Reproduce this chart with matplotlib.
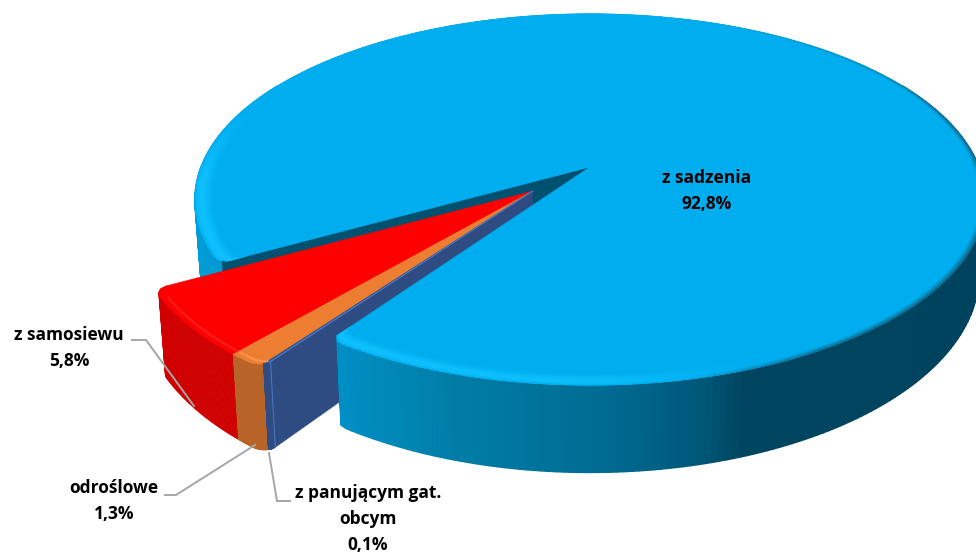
"""3D exploded pie chart, drawn with polygons through a small projection."""

import matplotlib

matplotlib.use("Agg")
import matplotlib.pyplot as plt
import numpy as np
from matplotlib.collections import PolyCollection
from matplotlib.colors import to_rgb
from matplotlib.patches import Polygon

labels = ["z sadzenia", "z panującym gat.\nobcym", "odroślowe", "z samosiewu"]
shares = [92.8, 0.1, 1.3, 5.8]

top_colors = ["#00AEEF", "#2F4D85", "#ED7D31", "#FF0000"]
wall_colors = ["#0090C4", "#2E4C82", "#B86428", "#D00000"]

# projection of the unit disc to pixels
CX, CY = 590.0, 167.0
RX, RY = 389.0, 180.0
K = 0.175
DEPTH = 72.0
SHRINK = 0.985

START = 209.3
EXPLODE = 0.195
GROUP_SCALE = 0.98
GROUP_TILT = -0.3


def project(x, y, low=False):
    x, y = np.asarray(x, float), np.asarray(y, float)
    w = 1 + K * y
    sx = CX + RX * x / w
    sy = CY - RY * y / w
    if low:
        sx = CX + (sx - CX) * SHRINK
        sy = sy + DEPTH / w
    return sx, sy


def arc_xy(theta, a0, a1, off=(0, 0), scale=1.0, round_deg=2.2, round_r=0.02, turn=0.0):
    # rounded corners: radius falls a little near both ends of the arc
    d = np.minimum(theta - a0, a1 - theta)
    t = np.clip((round_deg - d) / round_deg, 0, 1)
    r = scale * (1 - round_r * (1 - np.sqrt(1 - t**2)))
    rad = np.radians(theta + turn)
    return off[0] + r * np.cos(rad), off[1] + r * np.sin(rad)


def mix(c1, c2, t):
    c1, c2 = np.array(to_rgb(c1)), np.array(to_rgb(c2))
    return tuple(c1 + (c2 - c1) * np.clip(t, 0, 1))


def strip(tx, ty, bx, by):
    return [[(tx[i], ty[i]), (tx[i + 1], ty[i + 1]), (bx[i + 1], by[i + 1]), (bx[i], by[i])] for i in range(len(tx) - 1)]


def wall(ax, theta, a0, a1, color_fn):
    x, y = arc_xy(theta, a0, a1)
    tx, ty = project(x, y)
    bx, by = project(x, y, low=True)
    cols = [color_fn((tx[i] + tx[i + 1]) / 2) for i in range(len(theta) - 1)]
    ax.add_collection(PolyCollection(strip(tx, ty, bx, by), facecolors=cols, edgecolors=cols, linewidths=1.0))


def blue_wall_color(sx):
    stops = [200, 340, 450, 600, 700, 745, 976]
    g = np.interp(sx, stops, [156, 143, 126, 108, 88, 69, 67])
    b = np.interp(sx, stops, [214, 196, 168, 148, 122, 96, 94])
    return (0, g / 255, b / 255)


def blue_rim(ax, theta, a0, a1):
    edges = np.linspace(1.0, 0.955, 10)
    for r0, r1 in zip(edges[:-1], edges[1:]):
        mid_r = (r0 + r1) / 2
        glow = np.interp(mid_r, [0.955, 0.98, 0.99, 1.0], [0, 1, 0.9, 0.1])
        shade = np.interp(mid_r, [0.985, 1.0], [0, 1])
        xo, yo = arc_xy(theta, a0, a1, scale=r0)
        xi, yi = arc_xy(theta, a0, a1, scale=r1)
        sxo, syo = project(xo, yo)
        sxi, syi = project(xi, yi)
        cols = []
        for i in range(len(theta) - 1):
            bright = np.interp(sxo[i], [195, 560, 760], [1, 0.9, 0]) * np.interp(yo[i], [-0.1, 0.35], [1, 0])
            dark = np.interp(sxo[i], [680, 820], [0, 1]) * np.interp(yo[i], [0.2, 0.8], [1, 0.3])
            col = mix("#00AEEF", "#10C2FF", bright * glow)
            cols.append(mix(col, "#15607F", dark * shade))
        ax.add_collection(PolyCollection(strip(sxo, syo, sxi, syi), facecolors=cols, edgecolors=cols, linewidths=0.5))


def pct_label(i):
    return f"{labels[i]}\n" + f"{shares[i]:.1f}".replace(".", ",") + "%"


def main():
    fig = plt.figure(figsize=(9.76, 5.55), dpi=100)
    ax = fig.add_axes([0, 0, 1, 1])
    ax.set_xlim(0, 976)
    ax.set_ylim(555, 0)
    ax.axis("off")

    spans = np.array(shares) / sum(shares) * 360
    # slices run clockwise from START
    ends = START - np.cumsum(spans)
    starts = ends + spans

    # main slice, angles ascending from its end to its start
    a0, a1 = ends[0], starts[0]
    theta = np.linspace(a0, a1, 361)
    apex = project(0, 0)
    apex_low = project(0, 0, low=True)

    # parts of the main wall lying behind the exploded slices
    back = theta[theta >= 150]
    wall(ax, back, a0, a1, blue_wall_color)
    x1, y1 = arc_xy(np.array([a1 - 0.3]), a0, a1)
    tx, ty = project(x1, y1)
    bx, by = project(x1, y1, low=True)
    ax.add_patch(Polygon([apex, (tx[0], ty[0]), (bx[0], by[0]), apex_low], closed=True, fc="#00506F", ec="#00506F", lw=0.5))

    # exploded slices, wall and cut face first
    g0, g1 = ends[-1], starts[1]
    mid = np.radians((g0 + g1) / 2)
    off = (EXPLODE * np.cos(mid), EXPLODE * np.sin(mid))
    ox, oy = project(off[0], off[1])
    oxl, oyl = project(off[0], off[1], low=True)
    group = dict(off=off, round_deg=2.5, round_r=0.03, turn=GROUP_TILT)
    for i in [3, 2, 1]:
        th = np.linspace(ends[i], starts[i], 60)
        x, y = arc_xy(th, g0, g1, scale=GROUP_SCALE, **group)
        tx, ty = project(x, y)
        bx, by = project(x, y, low=True)
        col = wall_colors[i]
        ax.add_collection(PolyCollection(strip(tx, ty, bx, by), facecolors=col, edgecolors=col, linewidths=0.6))
        if i == 1:
            # cut face of the group, seen through the gap
            ax.add_patch(Polygon([(ox, oy), (tx[-1], ty[-1]), (bx[-1], by[-1]), (oxl, oyl)], closed=True, fc=col, ec=col, lw=0.5))
        ax.add_patch(Polygon(np.r_[[(ox, oy)], np.c_[tx, ty]], closed=True, fc=top_colors[i], ec=top_colors[i], lw=0.4))
        if i == 1:
            ax.plot(tx[-2:], ty[-2:], color="#4A78C8", lw=1.2)
            ax.plot([ox, tx[-1]], [oy, ty[-1]], color="#4A78C8", lw=0.9)
            ax.plot([tx[-1], bx[-1]], [ty[-1], by[-1]], color="#4A78C8", lw=0.7)
        else:
            inner = th[th > g0 + 2.5]
            xi, yi = arc_xy(inner, g0, g1, scale=GROUP_SCALE * 0.985, **group)
            sxi, syi = project(xi, yi)
            ax.plot(sxi, syi, color={3: "#FF1A1A", 2: "#F8914A"}[i], lw=1.8, solid_capstyle="butt")

    # front part of the main wall, then its top face
    front = theta[theta <= 30]
    wall(ax, front, a0, a1, blue_wall_color)
    x, y = arc_xy(theta, a0, a1)
    tx, ty = project(x, y)
    ax.add_patch(Polygon(np.r_[[apex], np.c_[tx, ty]], closed=True, fc=top_colors[0], ec=top_colors[0], lw=0.4))
    blue_rim(ax, theta, a0, a1)

    text_style = dict(ha="center", va="center", fontsize=12.5, weight="bold", color="black",
                      family="Open Sans", linespacing=1.6)
    ax.text(707, 191, pct_label(0), **text_style)
    ax.text(69, 348, pct_label(3), **text_style)
    ax.text(114, 501, pct_label(2), **text_style)
    ax.text(368, 519, pct_label(1), **text_style)

    grey = dict(color="#A6A6A6", lw=1.4, solid_joinstyle="miter")
    ax.plot([132, 146, 194], [340, 340, 406], **grey)
    ax.plot([165, 176, 255], [495, 495, 445], **grey)
    ax.plot([290, 277, 269], [501, 501, 453], **grey)

    fig.savefig("out.png", dpi=100, facecolor="white")


if __name__ == "__main__":
    main()
